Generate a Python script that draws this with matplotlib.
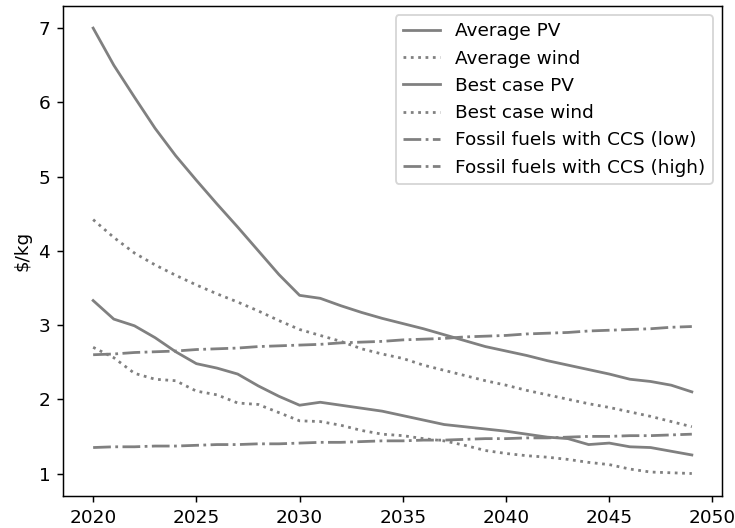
import matplotlib
matplotlib.use("Agg")
import matplotlib.pyplot as plt

years = list(range(2020, 2050))

average_pv = [7.00, 6.50, 6.07, 5.65, 5.28, 4.95, 4.63, 4.32, 4.00, 3.68,
              3.40, 3.36, 3.26, 3.17, 3.09, 3.02, 2.95, 2.87, 2.79, 2.71,
              2.65, 2.59, 2.52, 2.46, 2.40, 2.34, 2.27, 2.24, 2.19, 2.10]
average_wind = [4.42, 4.18, 3.97, 3.81, 3.67, 3.54, 3.42, 3.31, 3.19, 3.06,
                2.94, 2.86, 2.78, 2.68, 2.61, 2.55, 2.46, 2.39, 2.32, 2.25,
                2.19, 2.12, 2.06, 2.00, 1.94, 1.89, 1.83, 1.77, 1.70, 1.63]
best_pv = [3.33, 3.08, 2.99, 2.83, 2.64, 2.48, 2.42, 2.34, 2.18, 2.04,
           1.92, 1.96, 1.92, 1.88, 1.84, 1.78, 1.72, 1.66, 1.63, 1.60,
           1.57, 1.53, 1.49, 1.47, 1.39, 1.41, 1.36, 1.35, 1.30, 1.25]
best_wind = [2.70, 2.56, 2.35, 2.27, 2.25, 2.11, 2.06, 1.95, 1.93, 1.82,
             1.71, 1.70, 1.65, 1.58, 1.53, 1.51, 1.47, 1.44, 1.38, 1.31,
             1.27, 1.24, 1.22, 1.19, 1.15, 1.12, 1.06, 1.02, 1.01, 1.00]
ccs_low = [1.35, 1.36, 1.36, 1.37, 1.37, 1.38, 1.39, 1.39, 1.40, 1.40,
           1.41, 1.42, 1.42, 1.43, 1.44, 1.44, 1.45, 1.45, 1.46, 1.47,
           1.47, 1.48, 1.48, 1.49, 1.50, 1.50, 1.51, 1.51, 1.52, 1.53]
ccs_high = [2.60, 2.61, 2.63, 2.64, 2.65, 2.67, 2.68, 2.69, 2.71, 2.72,
            2.73, 2.74, 2.76, 2.77, 2.78, 2.80, 2.81, 2.82, 2.84, 2.85,
            2.86, 2.88, 2.89, 2.90, 2.92, 2.93, 2.94, 2.95, 2.97, 2.98]

dpi = 133
fig, ax = plt.subplots(figsize=(735 / dpi, 528 / dpi), dpi=dpi)
ax.plot(years, average_pv, color="grey", linestyle="-", label="Average PV")
ax.plot(years, average_wind, color="grey", linestyle=":", label="Average wind")
ax.plot(years, best_pv, color="grey", linestyle="-", label="Best case PV")
ax.plot(years, best_wind, color="grey", linestyle=":", label="Best case wind")
ax.plot(years, ccs_low, color="grey", linestyle="-.", label="Fossil fuels with CCS (low)")
ax.plot(years, ccs_high, color="grey", linestyle="-.", label="Fossil fuels with CCS (high)")
ax.set_ylabel(r"\$/kg")
ax.legend(loc="upper right")

plt.subplots_adjust(left=0.086, right=0.982, top=0.989, bottom=0.061)
plt.savefig("out.png", dpi=dpi)
